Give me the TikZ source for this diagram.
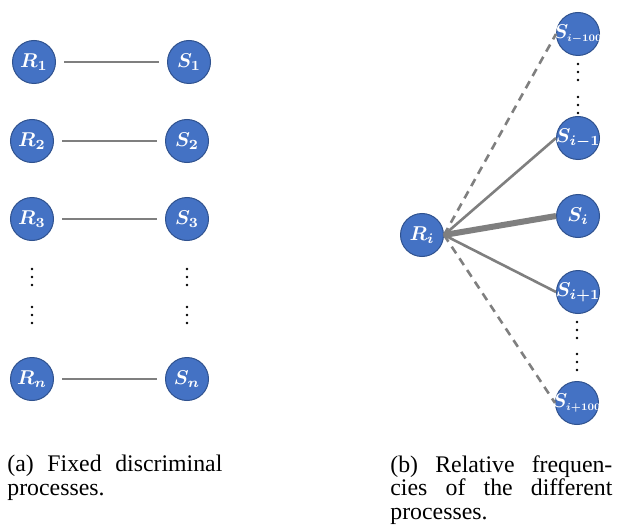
\documentclass[tikz,border=0pt]{standalone}
\usepackage{amsmath}
\usepackage{amssymb}
\usepackage{graphicx}
\usepackage{fontspec}
\setmainfont{Liberation Serif}
\usepackage{tikz}
\usetikzlibrary{calc,positioning}

\definecolor{procblue}{HTML}{4472C4}
\definecolor{procedge}{HTML}{2F528F}
\definecolor{linkgray}{HTML}{7F7F7F}

\tikzset{
  proc/.style={circle, fill=procblue, draw=procedge, line width=0.5pt,
    minimum size=21.5pt, inner sep=0pt, text=white,
    font=\fontsize{10}{11}\selectfont\boldmath},
  link/.style={linkgray, line width=1.3pt},
  farlink/.style={linkgray, line width=1.3pt, dash pattern=on 4pt off 3pt},
  mainlink/.style={linkgray, line width=3pt},
  capt/.style={anchor=north west, inner sep=0pt, align=left,
    font=\fontsize{11.9}{11.75}\selectfont}
}

% label that does not widen the circle
\newcommand{\lbl}[1]{\makebox[0pt]{$#1$}}
% long index, squeezed
\newcommand{\far}[1]{\makebox[0pt]{$S_{\scalebox{0.72}{$\scriptstyle #1$}}$}}

\begin{document}
\begin{tikzpicture}[x=0.5pt,y=-0.5pt]
\useasboundingbox (0,0) rectangle (619,529);
%\draw[help lines, step=20] (0,0) grid (619,529);

% (a) fixed pairs
\node[proc] (R1) at (34,62)  {\lbl{R_1}};
\node[proc] (S1) at (189,62) {\lbl{S_1}};
\node[proc] (R2) at (32,141) {\lbl{R_2}};
\node[proc] (S2) at (187,141) {\lbl{S_2}};
\node[proc] (R3) at (32,219) {\lbl{R_3}};
\node[proc] (S3) at (187,219) {\lbl{S_3}};
\node[proc] (Rn) at (32,379) {\lbl{R_n}};
\node[proc] (Sn) at (187,379) {\lbl{S_n}};

\foreach \a/\b in {R1/S1, R2/S2, R3/S3, Rn/Sn}
  \draw[link, shorten <=4pt, shorten >=4pt] (\a.east) -- (\b.west);

% (b) one R against many S
\node[proc] (Ri)   at (422,235) {\lbl{R_i}};
\node[proc] (Sm100) at (578,34)  {\far{i-100}};
\node[proc] (Sm1)  at (578,138) {\lbl{S_{i-1}}};
\node[proc] (Si)   at (578,216) {\lbl{S_i}};
\node[proc] (Sp1)  at (578,292) {\lbl{S_{i+1}}};
\node[proc] (Sp100) at (577,403) {\far{i+100}};

\draw[farlink] (Ri.east) -- (Sm100.west);
\draw[link] (Ri.east) -- (Sm1.west);
\draw[mainlink] (Ri.east) -- (Si.west);
\draw[link] (Ri.east) -- (Sp1.west);
\draw[farlink] (Ri.east) -- (Sp100.west);

% vertical dots
\foreach \x/\y in {32/277, 32/315, 187/277, 187/315, 578/72, 578/105, 577/330, 577/362}
  \foreach \d in {-8,0,8}
    \fill (\x,\y+\d) circle (0.65pt);

% captions
\node[capt] (capA) at (7,455)
  {\makebox[107.5pt][s]{(a) Fixed discriminal}\\processes.};
\node[capt] (capB) at (390,455)
  {\makebox[111pt][s]{(b) Relative frequen-}\\\makebox[111pt][s]{cies of the different}\\processes.};

\end{tikzpicture}
\end{document}
